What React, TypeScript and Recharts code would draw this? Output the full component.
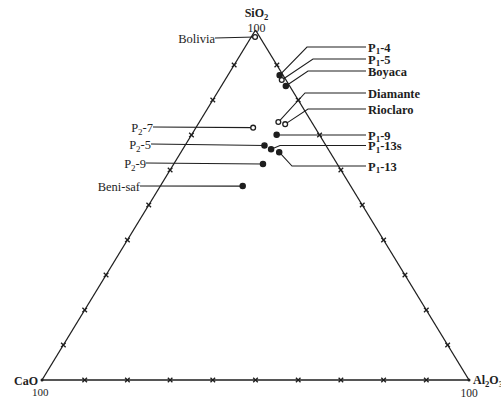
import React from 'react';
import { ScatterChart, Scatter, XAxis, YAxis, ReferenceLine } from 'recharts';

// ---- data (mass %, ternary SiO2 - CaO - Al2O3) ----
const samples = ['Bolivia', 'P_1-4', 'P_1-5', 'Boyaca', 'Diamante', 'Rioclaro', 'P_1-9', 'P_1-13s', 'P_1-13', 'P_2-7', 'P_2-5', 'P_2-9', 'Beni-saf'];
const sio2 = [98.0, 87.1, 85.7, 84.0, 73.7, 73.1, 70.1, 65.9, 65.1, 72.1, 67.0, 61.7, 55.4];
const al2o3 = [0.9, 12.1, 13.3, 15.1, 18.5, 20.4, 19.9, 20.7, 23.0, 13.4, 18.6, 20.9, 19.3];
const cao = [1.1, 0.8, 1.0, 0.9, 7.8, 6.5, 10.0, 13.4, 11.9, 14.5, 14.4, 17.4, 25.3];
const hollow = [true, false, true, false, true, true, false, false, false, true, false, false, false];

const gridTicks = [10, 20, 30, 40, 50, 60, 70, 80, 90];
const corners = ['SiO_2', 'CaO', 'Al_2O_3'];
const cornerValue = '100';

// ---- layout of label leaders (pixels) ----
type Lay = { side: 'left' | 'right'; lineY: number; elbowX?: number; textX: number };
const labelLayout: Record<string, Lay> = {
  'Bolivia': { side: 'left', lineY: 38, textX: 215 },
  'P_1-4': { side: 'right', lineY: 47, elbowX: 307, textX: 368 },
  'P_1-5': { side: 'right', lineY: 59, elbowX: 313, textX: 368 },
  'Boyaca': { side: 'right', lineY: 71, elbowX: 308, textX: 368 },
  'Diamante': { side: 'right', lineY: 93, elbowX: 305, textX: 368 },
  'Rioclaro': { side: 'right', lineY: 109, elbowX: 308, textX: 368 },
  'P_1-9': { side: 'right', lineY: 135, elbowX: 280, textX: 368 },
  'P_1-13s': { side: 'right', lineY: 145.5, elbowX: 280, textX: 368 },
  'P_1-13': { side: 'right', lineY: 166, elbowX: 292, textX: 368 },
  'P_2-7': { side: 'left', lineY: 127, textX: 153 },
  'P_2-5': { side: 'left', lineY: 144, textX: 151 },
  'P_2-9': { side: 'left', lineY: 163, textX: 146 },
  'Beni-saf': { side: 'left', lineY: 186, textX: 140 },
};

const toXY = (s: number, a: number, c: number) => {
  const t = s + a + c;
  return { x: ((a + s / 2) / t) * 100, y: (s / t) * 100 };
};

const sampleData = samples.map((name, i) => ({
  name,
  hollow: hollow[i],
  ...toXY(sio2[i], al2o3[i], cao[i]),
}));

const tickData = [
  ...gridTicks.map((t) => toXY(0, t, 100 - t)), // bottom edge
  ...gridTicks.map((t) => toXY(t, 0, 100 - t)), // left edge
  ...gridTicks.map((t) => toXY(t, 100 - t, 0)), // right edge
];

const cornerData = [
  { name: corners[0], ...toXY(100, 0, 0) },
  { name: corners[1], ...toXY(0, 0, 100) },
  { name: corners[2], ...toXY(0, 100, 0) },
];

const FONT = '"Liberation Serif", "Times New Roman", serif';
const INK = '#1e1e1e';

const Rich = ({ text, x, y, anchor, size, weight }: any) => {
  const parts = text.split(/_(\d)/);
  const nodes: any[] = [];
  let shifted = false;
  parts.forEach((p: string, i: number) => {
    if (p === '') return;
    if (i % 2 === 1) {
      nodes.push(
        <tspan key={i} dy={shifted ? 0 : 2.5} fontSize={size * 0.72}>{p}</tspan>
      );
      shifted = true;
    } else {
      nodes.push(
        <tspan key={i} dy={shifted ? -2.5 : 0}>{p}</tspan>
      );
      shifted = false;
    }
  });
  return (
    <text x={x} y={y} textAnchor={anchor} fontFamily={FONT} fontSize={size} fontWeight={weight} fill={INK}>
      {nodes}
    </text>
  );
};

const SampleShape = (props: any) => {
  const { cx, cy, payload } = props;
  const L = labelLayout[payload.name];
  let path = '';
  let text = null;
  if (L) {
    if (L.side === 'right') {
      const ex = L.elbowX ?? cx;
      path = `M${cx},${cy} L${ex},${L.lineY} L${L.textX - 2},${L.lineY}`;
      text = <Rich text={payload.name} x={L.textX} y={L.lineY + 4.5} anchor="start" size={12.5} weight="bold" />;
    } else {
      path = `M${L.textX},${L.lineY} L${cx},${cy}`;
      text = <Rich text={payload.name} x={L.textX} y={L.lineY + 5} anchor="end" size={12.5} weight="normal" />;
    }
  }
  return (
    <g>
      <path d={path} stroke={INK} strokeWidth={1.1} fill="none" />
      <circle cx={cx} cy={cy} r={payload.hollow ? 2.4 : 2.6} fill={payload.hollow ? '#fff' : INK} stroke={INK} strokeWidth={1.3} />
      {text}
    </g>
  );
};

const TickShape = (props: any) => {
  const { cx, cy } = props;
  const d = 2.3;
  return (
    <path
      d={`M${cx - d},${cy - d} L${cx + d},${cy + d} M${cx + d},${cy - d} L${cx - d},${cy + d}`}
      stroke={INK}
      strokeWidth={1.3}
    />
  );
};

const CornerShape = (props: any) => {
  const { cx, cy, payload } = props;
  if (payload.name === corners[0]) {
    return (
      <g>
        <Rich text={payload.name} x={cx + 1} y={cy - 13} anchor="middle" size={12} weight="bold" />
        <Rich text={cornerValue} x={cx + 1} y={cy + 2} anchor="middle" size={12} weight="normal" />
      </g>
    );
  }
  if (payload.name === corners[1]) {
    return (
      <g>
        <circle cx={cx} cy={cy} r={1.5} fill={INK} />
        <Rich text={payload.name} x={cx - 4} y={cy + 5} anchor="end" size={12} weight="bold" />
        <Rich text={cornerValue} x={cx - 10} y={cy + 16} anchor="start" size={11} weight="normal" />
      </g>
    );
  }
  return (
    <g>
      <circle cx={cx} cy={cy} r={1.5} fill={INK} />
      <Rich text={payload.name} x={cx + 4} y={cy + 4} anchor="start" size={12} weight="bold" />
      <Rich text={cornerValue} x={cx} y={cy + 17} anchor="middle" size={11.5} weight="normal" />
    </g>
  );
};

export default function App() {
  return (
    <div style={{ position: 'absolute', left: 0, top: 0, background: '#fff' }}>
      <ScatterChart width={501} height={400} margin={{ top: 30, right: 32, bottom: 20, left: 42 }}>
        <XAxis type="number" dataKey="x" domain={[0, 100]} hide />
        <YAxis type="number" dataKey="y" domain={[0, 100]} hide />
        <ReferenceLine segment={[{ x: 0, y: 0 }, { x: 100, y: 0 }]} stroke={INK} strokeWidth={1.3} ifOverflow="visible" />
        <ReferenceLine segment={[{ x: 0, y: 0 }, { x: 50, y: 100 }]} stroke={INK} strokeWidth={1.3} ifOverflow="visible" />
        <ReferenceLine segment={[{ x: 100, y: 0 }, { x: 50, y: 100 }]} stroke={INK} strokeWidth={1.3} ifOverflow="visible" />
        <Scatter data={tickData} shape={TickShape} isAnimationActive={false} />
        <Scatter data={cornerData} shape={CornerShape} isAnimationActive={false} />
        <Scatter data={sampleData} shape={SampleShape} isAnimationActive={false} />
      </ScatterChart>
    </div>
  );
}
